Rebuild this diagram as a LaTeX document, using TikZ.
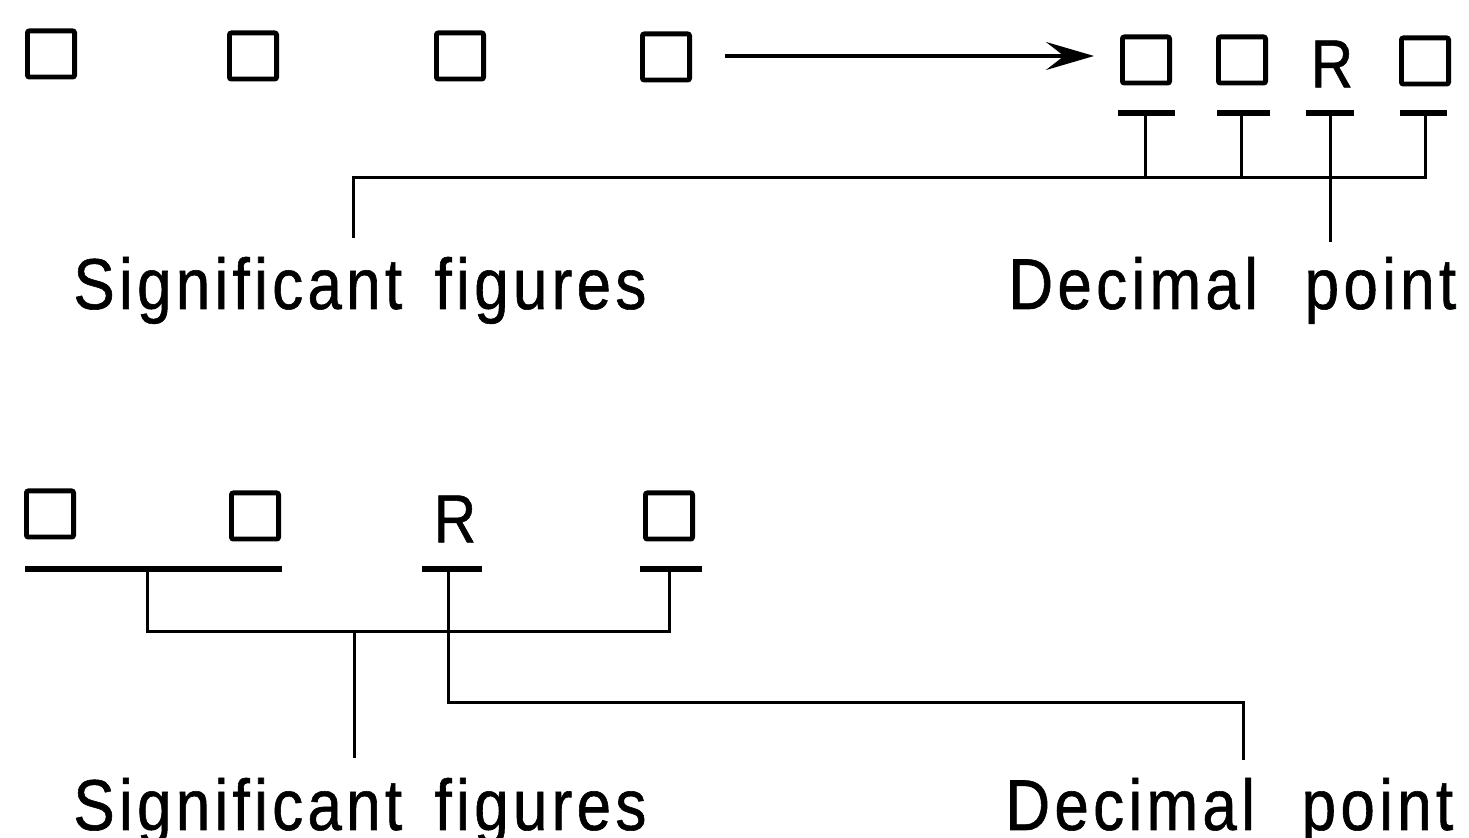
\documentclass[tikz,border=0pt]{standalone}
\usepackage{fontspec}
\setmainfont{Liberation Sans}
\newfontfamily\lblfont[FakeStretch=0.86, LetterSpace=6, FakeBold=0.8]{Liberation Sans}
\usetikzlibrary{arrows.meta}
\begin{document}
\begin{tikzpicture}[x=0.5pt,y=-0.5pt,
  digit/.style={draw, line width=2.4pt, rounded corners=1pt, minimum width=23.6pt, minimum height=23.1pt, inner sep=0pt},
  rchar/.style={inner sep=0pt, font=\lblfont\fontsize{34}{36}\selectfont},
  lbl/.style={inner sep=0pt, font=\lblfont\fontsize{36}{40}\selectfont},
  bar/.style={line width=2.8pt},
  conn/.style={line width=1.5pt},
  arr/.style={line width=1.6pt, -{Stealth[length=24pt, width=14pt, inset=9pt]}}
]
\fill[white] (0,0) rectangle (1469,838);
\useasboundingbox (0,0) rectangle (1469,838);

% ---------- top row ----------
\node[digit] (a1) at (51,54) {};
\node[digit] (a2) at (253,56) {};
\node[digit] (a3) at (460,56) {};
\node[digit] (a4) at (666,57) {};
\node[digit] (a5) at (1146,60) {};
\node[digit] (a6) at (1242,60) {};
\node[rchar] (aR) at (1332,64) {R};
\node[digit] (a7) at (1425,61) {};

\coordinate (arrS) at (725,56);
\coordinate (arrE) at (1094,56);
\draw[arr] (arrS) -- (arrE);

% bars
\coordinate (t1l) at (1118,113); \coordinate (t1r) at (1175,113); \coordinate (t1) at (1145,113);
\coordinate (t2l) at (1217,113); \coordinate (t2r) at (1270,113); \coordinate (t2) at (1241,113);
\coordinate (t3l) at (1306,113); \coordinate (t3r) at (1354,113); \coordinate (t3) at (1330,113);
\coordinate (t4l) at (1400,113); \coordinate (t4r) at (1447,113); \coordinate (t4) at (1425,113);
\draw[bar] (t1l) -- (t1r);
\draw[bar] (t2l) -- (t2r);
\draw[bar] (t3l) -- (t3r);
\draw[bar] (t4l) -- (t4r);

\coordinate (hA) at (353,178);
\coordinate (sA) at (353,238);
\coordinate (dA) at (1330,242);

\draw[conn] (t1) -- (t1 |- hA);
\draw[conn] (t2) -- (t2 |- hA);
\draw[conn] (sA) -- (hA) -- (hA -| t4) -- (t4);
\draw[conn] (t3) -- (dA);

\node[lbl, anchor=base west] (sf1) at (73,309) {Significant\hspace{0.45em}figures};
\node[lbl, anchor=base west] (dp1) at (1008,309) {Decimal\hspace{0.65em}point};

% ---------- bottom row ----------
\node[digit] (b1) at (50,514) {};
\node[digit] (b2) at (255,516) {};
\node[rchar] (bR) at (455,519) {R};
\node[digit] (b3) at (669,516) {};

\coordinate (u1l) at (25,569);  \coordinate (u1r) at (282,569); \coordinate (u1) at (147,569);
\coordinate (u2l) at (422,569); \coordinate (u2r) at (482,569); \coordinate (u2) at (448,569);
\coordinate (u3l) at (640,569); \coordinate (u3r) at (702,569); \coordinate (u3) at (669,569);
\draw[bar] (u1l) -- (u1r);
\draw[bar] (u2l) -- (u2r);
\draw[bar] (u3l) -- (u3r);

\coordinate (hB) at (147,632);
\coordinate (jB) at (354,632);
\coordinate (sB) at (354,758);
\coordinate (hD) at (448,703);
\coordinate (dB) at (1243,760);

\draw[conn] (u1) -- (hB) -- (hB -| u3) -- (u3);
\draw[conn] (jB) -- (sB);
\draw[conn] (u2) -- (hD) -- (hD -| dB) -- (dB);

\node[lbl, anchor=base west] (sf2) at (73,830) {Significant\hspace{0.45em}figures};
\node[lbl, anchor=base west] (dp2) at (1005,830) {Decimal\hspace{0.65em}point};
\end{tikzpicture}
\end{document}
